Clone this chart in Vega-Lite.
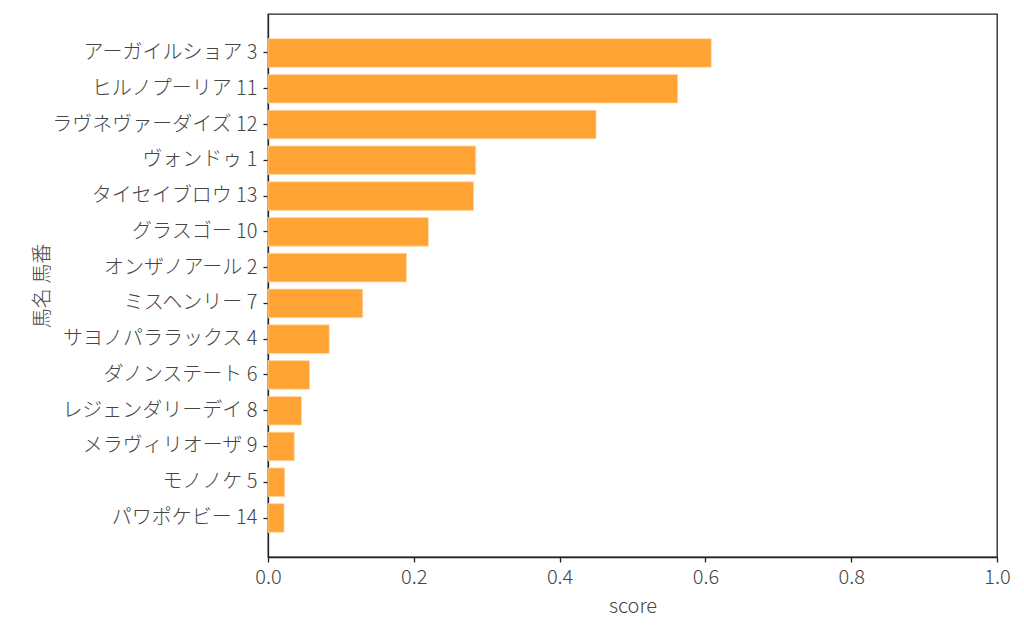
{
  "$schema": "https://vega.github.io/schema/vega-lite/v6.json",
  "width": 729,
  "height": 543,
  "autosize": {"type": "none"},
  "padding": {"left": 268, "top": 14, "right": 27, "bottom": 81},
  "background": "white",
  "config": {
    "font": "Noto Sans CJK JP",
    "view": {"stroke": "#222", "strokeWidth": 1.3},
    "axis": {
      "labelFont": "Noto Sans CJK JP",
      "titleFont": "Noto Sans CJK JP",
      "labelFontSize": 20,
      "titleFontSize": 20,
      "labelFontWeight": 300,
      "titleFontWeight": 300,
      "labelColor": "#454545",
      "titleColor": "#454545",
      "domainColor": "#222",
      "domainWidth": 1.3,
      "tickColor": "#222",
      "tickWidth": 1.3,
      "tickSize": 5,
      "labelFlush": false,
      "grid": false
    }
  },
  "data": {
    "values": [
      {"name": "アーガイルショア 3", "score": 0.608},
      {"name": "ヒルノプーリア 11", "score": 0.562},
      {"name": "ラヴネヴァーダイズ 12", "score": 0.450},
      {"name": "ヴォンドゥ 1", "score": 0.285},
      {"name": "タイセイブロウ 13", "score": 0.282},
      {"name": "グラスゴー 10", "score": 0.220},
      {"name": "オンザノアール 2", "score": 0.190},
      {"name": "ミスヘンリー 7", "score": 0.130},
      {"name": "サヨノパララックス 4", "score": 0.084},
      {"name": "ダノンステート 6", "score": 0.057},
      {"name": "レジェンダリーデイ 8", "score": 0.046},
      {"name": "メラヴィリオーザ 9", "score": 0.036},
      {"name": "モノノケ 5", "score": 0.023},
      {"name": "パワポケビー 14", "score": 0.022}
    ]
  },
  "mark": {"type": "bar", "color": "#ffa334", "stroke": "#ffd9a8", "strokeWidth": 0.8},
  "encoding": {
    "y": {
      "field": "name",
      "type": "nominal",
      "sort": null,
      "title": "馬名 馬番",
      "scale": {"paddingInner": 0.2, "paddingOuter": 0.69},
      "axis": {"labelPadding": 6, "titlePadding": 16, "labelLimit": 300}
    },
    "x": {
      "field": "score",
      "type": "quantitative",
      "title": "score",
      "scale": {"domain": [0, 1], "nice": false},
      "axis": {"values": [0, 0.2, 0.4, 0.6, 0.8, 1.0], "format": ".1f", "labelPadding": 5, "titlePadding": 9}
    }
  }
}
